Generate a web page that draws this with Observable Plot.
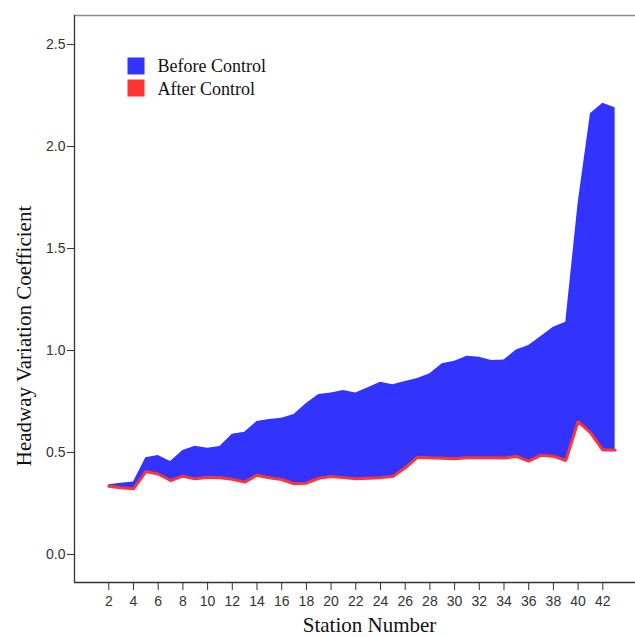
<!DOCTYPE html>
<html>
<head>
<meta charset="utf-8">
<script src="https://cdn.jsdelivr.net/npm/d3@7"></script>
<script src="https://cdn.jsdelivr.net/npm/@observablehq/plot@0.6"></script>
<style>
  html, body { margin: 0; padding: 0; background: #fff; overflow: hidden; }
  #chart { width: 635px; height: 637px; }
</style>
</head>
<body>
<div id="chart"></div>
<script>
// ---- data ----
const stations = d3.range(2, 44);
const beforeControl = [
  0.342, 0.350, 0.355, 0.474, 0.485, 0.456, 0.510, 0.531, 0.521, 0.529,
  0.590, 0.599, 0.652, 0.662, 0.668, 0.687, 0.740, 0.784, 0.792, 0.804,
  0.792, 0.817, 0.845, 0.832, 0.848, 0.863, 0.886, 0.935, 0.948, 0.972,
  0.967, 0.951, 0.953, 1.002, 1.025, 1.069, 1.114, 1.139, 1.720, 2.160,
  2.212, 2.190
];
const afterControl = [
  0.335, 0.327, 0.322, 0.407, 0.395, 0.363, 0.384, 0.371, 0.379, 0.376,
  0.369, 0.355, 0.389, 0.376, 0.368, 0.347, 0.350, 0.374, 0.382, 0.377,
  0.371, 0.374, 0.377, 0.382, 0.425, 0.477, 0.474, 0.472, 0.469, 0.474,
  0.474, 0.474, 0.473, 0.481, 0.458, 0.487, 0.482, 0.461, 0.652, 0.598,
  0.512, 0.512
];
const xTicks = [2, 4, 6, 8, 10, 12, 14, 16, 18, 20, 22, 24, 26, 28, 30, 32, 34, 36, 38, 40, 42];
const yTicks = [0.0, 0.5, 1.0, 1.5, 2.0, 2.5];
const legendLabels = ["Before Control", "After Control"];
const legendColors = ["#3333ff", "#ff3333"];
const xLabel = "Station Number";
const yLabel = "Headway Variation Coefficient";

const rows = stations.map((s, i) => ({station: s, before: beforeControl[i], after: afterControl[i]}));

const xDomain = [-0.777, 44.648];
const yDomain = [-0.137, 2.642];
const serif = "'Liberation Serif', 'Times New Roman', serif";

const legendMarks = legendLabels.flatMap((lab, i) => [
  Plot.dot([lab], {frameAnchor: "top-left", dx: 61.5, dy: 50.5 + 22 * i, symbol: "square", r: 9.6, fill: legendColors[i], stroke: "none"}),
  Plot.text([lab], {frameAnchor: "top-left", dx: 83, dy: 56 + 23 * i, text: d => d, textAnchor: "start", lineAnchor: "bottom", fontFamily: serif, fontSize: 18, fill: "#111"})
]);

const chart = Plot.plot({
  width: 635,
  height: 637,
  marginLeft: 74,
  marginRight: 0,
  marginTop: 15,
  marginBottom: 55,
  x: {domain: xDomain},
  y: {domain: yDomain},
  style: {fontFamily: "'Liberation Sans', Arial, sans-serif", fontSize: "14px", background: "#fff"},
  marks: [
    Plot.areaY(rows, {x: "station", y1: "after", y2: "before", fill: legendColors[0], curve: "linear"}),
    Plot.lineY(rows, {x: "station", y: "after", stroke: legendColors[1], strokeWidth: 3, strokeLinejoin: "miter"}),
    Plot.ruleY([yDomain[1]], {stroke: "#8a8a8a", strokeWidth: 1.5}),
    Plot.ruleX([xDomain[0]], {stroke: "#333", strokeWidth: 1.3}),
    Plot.ruleY([yDomain[0]], {stroke: "#333", strokeWidth: 1.3}),
    Plot.axisX({ticks: xTicks, tickSize: 8, tickPadding: 6, label: null, stroke: "#333", fill: "#333", tickFormat: d => String(d)}),
    Plot.axisY({ticks: yTicks, tickSize: 7, tickPadding: 2, label: null, stroke: "#333", fill: "#333", tickFormat: d3.format(".1f")}),
    Plot.text([xLabel], {frameAnchor: "bottom", dx: 14.5, dy: 42.5, textAnchor: "middle", lineAnchor: "middle", text: d => d, fontFamily: serif, fontSize: 21, fill: "#111"}),
    Plot.text([yLabel], {frameAnchor: "left", dx: -50, dy: 37, rotate: -90, textAnchor: "middle", lineAnchor: "middle", text: d => d, fontFamily: serif, fontSize: 21, fill: "#111"}),
    ...legendMarks
  ]
});
document.getElementById("chart").appendChild(chart);
</script>
</body>
</html>
